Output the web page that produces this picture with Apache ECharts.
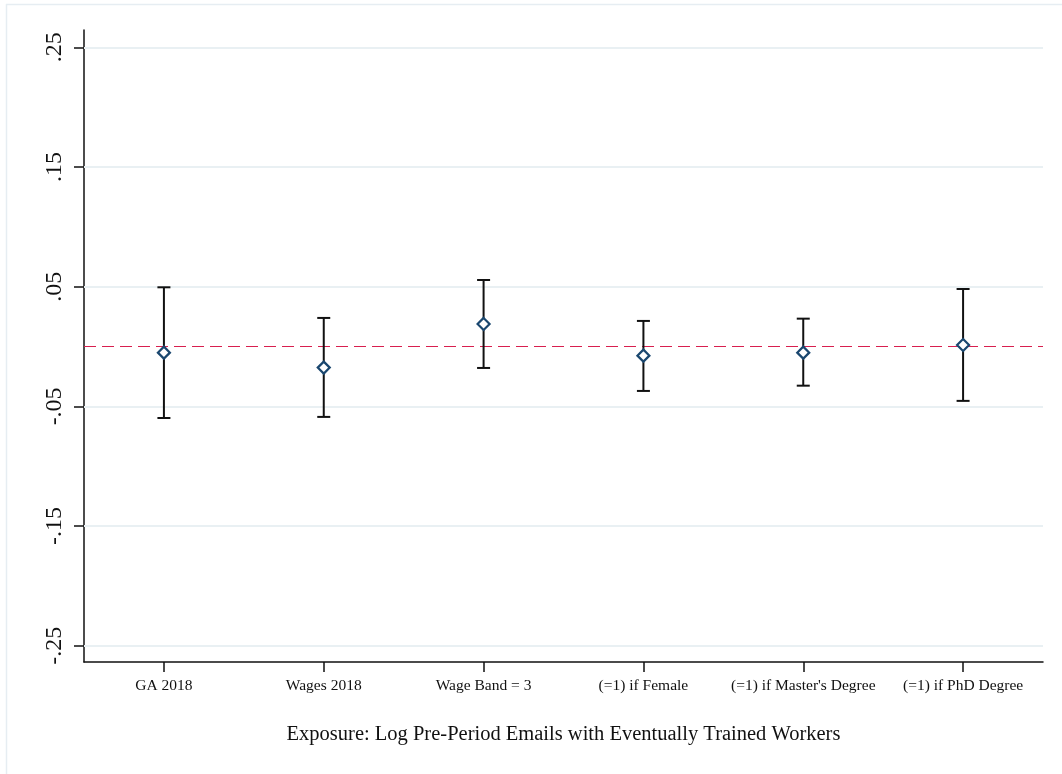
<!DOCTYPE html>
<html>
<head>
<meta charset="utf-8">
<script src="https://cdn.jsdelivr.net/npm/echarts@6/dist/echarts.min.js"></script>
<style>
  html, body { margin: 0; padding: 0; background: #fff; }
  #chart { width: 1062px; height: 774px; }
</style>
</head>
<body>
<div id="chart"></div>
<script>
// Covariates and their balance-test estimates with 95% confidence intervals
const categories = ['GA 2018', 'Wages 2018', 'Wage Band = 3', '(=1) if Female', "(=1) if Master's Degree", '(=1) if PhD Degree'];
const estimates  = [-0.0051, -0.0176, 0.0189, -0.0076, -0.0051, 0.0013];
const ciLower    = [-0.0597, -0.0588, -0.0179, -0.0371, -0.0327, -0.0454];
const ciUpper    = [0.0495, 0.0239, 0.0556, 0.0214, 0.0233, 0.0481];
const yTicks     = [-0.25, -0.15, -0.05, 0.05, 0.15, 0.25];
const xTitle     = 'Exposure: Log Pre-Period Emails with Eventually Trained Workers';

const FONT = '"Liberation Serif", "DejaVu Serif", serif';

// Stata-style tick labels: drop the leading zero
function fmt(v) {
  const s = String(Math.round(v * 100) / 100);
  return s.replace(/^0\./, '.').replace(/^-0\./, '-.');
}

const chart = echarts.init(document.getElementById('chart'), null, { renderer: 'canvas' });

const ciData = categories.map((c, i) => [i, ciLower[i], ciUpper[i]]);
const pointData = categories.map((c, i) => [i, estimates[i]]);

const option = {
  backgroundColor: '#ffffff',
  animation: false,
  graphic: [
    // light outer frame
    { type: 'line', shape: { x1: 6.5, y1: 4, x2: 6.5, y2: 774 }, style: { stroke: '#e6edf2', lineWidth: 1.5 }, silent: true },
    { type: 'line', shape: { x1: 6, y1: 4.5, x2: 1062, y2: 4.5 }, style: { stroke: '#e6edf2', lineWidth: 1.5 }, silent: true }
  ],
  grid: { left: 84, right: 19, top: 30, bottom: 112, containLabel: false },
  xAxis: {
    type: 'category',
    data: categories,
    boundaryGap: true,
    name: xTitle,
    nameLocation: 'middle',
    nameGap: 62,
    nameTextStyle: { fontFamily: FONT, fontSize: 20.5, color: '#111', verticalAlign: 'top' },
    axisLine: { show: true, onZero: false, lineStyle: { color: '#111', width: 1.5 } },
    axisTick: { show: true, alignWithLabel: true, length: 10, lineStyle: { color: '#111', width: 1.5 } },
    axisLabel: { fontFamily: FONT, fontSize: 15.5, color: '#111', margin: 16, interval: 0 },
    splitLine: { show: false }
  },
  yAxis: {
    type: 'value',
    min: -0.2636,
    max: 0.2645,
    axisLine: { show: true, onZero: false, lineStyle: { color: '#111', width: 1.5 } },
    axisTick: { show: true, length: 10, customValues: yTicks, lineStyle: { color: '#111', width: 1.5 } },
    axisLabel: {
      customValues: yTicks,
      rotate: 90,
      margin: 17,
      fontFamily: FONT,
      fontSize: 24,
      color: '#111',
      formatter: fmt
    },
    splitLine: { show: false }
  },
  series: [
    {
      // horizontal grid lines at the labelled ticks, plus the zero reference line
      type: 'line',
      data: [],
      silent: true,
      z: 1,
      markLine: {
        z: 1,
        silent: true,
        symbol: 'none',
        label: { show: false },
        animation: false,
        data: yTicks.map(v => ({ yAxis: v, lineStyle: { color: '#e9f0f3', width: 2, type: 'solid' } }))
          .concat([{ yAxis: 0, lineStyle: { color: '#d81f4f', width: 1.2, type: [12, 6] } }])
      }
    },
    {
      // confidence interval whiskers with caps
      type: 'custom',
      z: 3,
      data: ciData,
      renderItem: function (params, api) {
        const x = api.value(0);
        const lo = api.coord([x, api.value(1)]);
        const hi = api.coord([x, api.value(2)]);
        const half = 6.5;
        const style = { stroke: '#111', lineWidth: 2 };
        return {
          type: 'group',
          children: [
            { type: 'line', shape: { x1: lo[0], y1: lo[1], x2: hi[0], y2: hi[1] }, style: style },
            { type: 'line', shape: { x1: hi[0] - half, y1: hi[1], x2: hi[0] + half, y2: hi[1] }, style: style },
            { type: 'line', shape: { x1: lo[0] - half, y1: lo[1], x2: lo[0] + half, y2: lo[1] }, style: style }
          ]
        };
      }
    },
    {
      // point estimates as hollow diamonds
      type: 'scatter',
      z: 4,
      data: pointData,
      symbol: 'diamond',
      symbolSize: 12,
      itemStyle: { color: '#ffffff', borderColor: '#1a476f', borderWidth: 2.2, opacity: 1 }
    }
  ]
};

chart.setOption(option);
</script>
</body>
</html>
